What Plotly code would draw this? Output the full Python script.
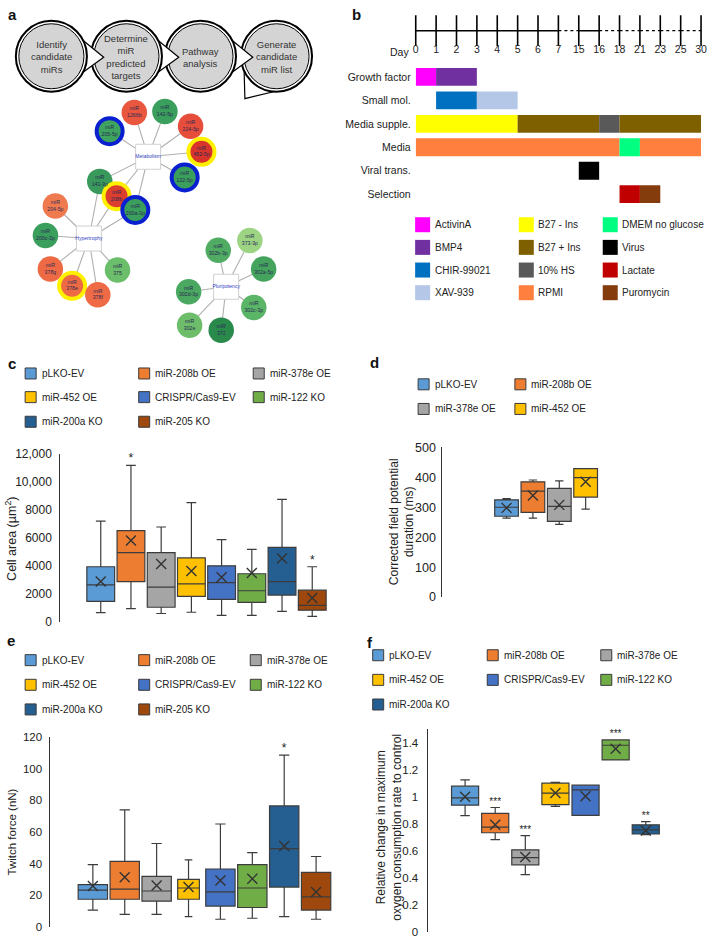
import math
import plotly.graph_objects as go

FONT = "Liberation Sans, Arial, Helvetica, sans-serif"
W, H = 712, 944

# ---------------- Panel a data ----------------
flow_steps = ["Identify<br>candidate<br>miRs", "Determine<br>miR<br>predicted<br>targets",
              "Pathway<br>analysis", "Generate<br>candidate<br>miR list"]
hub_names = ["Metabolism", "Hypertrophy", "Pluripotency"]
mir_names = ["1266b", "142-5p", "205-5p", "224-5p", "452-5p", "122-5p", "141-3p", "208b",
             "200a-3p", "204-5p", "200c-3p", "378g", "375", "378e", "378f",
             "373-3p", "302b-3p", "302a-5p", "302d-3p", "302c-3p", "302e", "372"]
mir_hubs = [["Metabolism"], ["Metabolism"], ["Metabolism"], ["Metabolism"], ["Metabolism"],
            ["Metabolism"], ["Metabolism", "Hypertrophy"], ["Metabolism", "Hypertrophy"],
            ["Metabolism", "Hypertrophy"], ["Hypertrophy"], ["Hypertrophy"], ["Hypertrophy"],
            ["Hypertrophy"], ["Hypertrophy"], ["Hypertrophy"],
            ["Pluripotency"], ["Pluripotency"], ["Pluripotency"], ["Pluripotency"],
            ["Pluripotency"], ["Pluripotency"], ["Pluripotency"]]
mir_selected = ["", "", "KO", "", "OE", "KO", "", "OE", "KO", "", "", "", "", "OE", "",
                "", "", "", "", "", "", ""]

# ---------------- Panel b data ----------------
day_ticks = [0, 1, 2, 3, 4, 5, 6, 7, 15, 16, 18, 21, 23, 25, 30]
timeline_rows = ["Growth factor", "Small mol.", "Media supple.", "Media", "Viral trans.", "Selection"]
seg_rows = ["Growth factor", "Growth factor", "Small mol.", "Small mol.",
            "Media supple.", "Media supple.", "Media supple.", "Media supple.",
            "Media", "Media", "Media", "Viral trans.", "Selection", "Selection"]
seg_start = [0, 1, 1, 3, 0, 5, 16, 18, 0, 18, 21, 15, 18, 21]
seg_end = [1, 3, 3, 5, 5, 16, 18, 30, 18, 21, 30, 16, 21, 23]
seg_item = ["ActivinA", "BMP4", "CHIR-99021", "XAV-939", "B27 - Ins", "B27 + Ins", "10% HS",
            "B27 + Ins", "RPMI", "DMEM no glucose", "RPMI", "Virus", "Lactate", "Puromycin"]
legend_b_cols = [["ActivinA", "BMP4", "CHIR-99021", "XAV-939"],
                 ["B27 - Ins", "B27 + Ins", "10% HS", "RPMI"],
                 ["DMEM no glucose", "Virus", "Lactate", "Puromycin"]]
dotted_after = [7, 16]  # day where a dotted gap begins

# ---------------- Panel c data ----------------
groups8 = ["pLKO-EV", "miR-208b OE", "miR-378e OE", "miR-452 OE",
           "CRISPR/Cas9-EV", "miR-122 KO", "miR-200a KO", "miR-205 KO"]
c_low = [660, 940, 590, 680, 450, 450, 750, 380]
c_q1 = [1460, 2880, 1040, 1820, 1600, 1390, 1910, 830]
c_med = [2640, 4950, 2480, 2710, 2800, 2220, 2880, 1180]
c_q3 = [3940, 6530, 4950, 4570, 4010, 3440, 5330, 2260]
c_high = [7210, 11200, 6790, 8530, 5890, 5190, 8770, 3940]
c_mean = [2880, 5820, 4130, 3630, 3180, 3490, 4530, 1700]
c_sig = ["", "*", "", "", "", "", "", "*"]
c_ticks = [0, 2000, 4000, 6000, 8000, 10000, 12000]
c_ticktext = ["0", "2000", "4000", "6000", "8000", "10,000", "12,000"]

# ---------------- Panel d data ----------------
groups4 = ["pLKO-EV", "miR-208b OE", "miR-378e OE", "miR-452 OE"]
d_low = [264, 264, 243, 294]
d_q1 = [270, 283, 253, 334]
d_med = [300, 354, 303, 399]
d_q3 = [325, 385, 363, 429]
d_high = [329, 391, 388, 429]
d_mean = [298, 339, 308, 385]
d_sig = ["", "", "", ""]
d_ticks = [0, 100, 200, 300, 400, 500]

# ---------------- Panel e data ----------------
e_low = [10.8, 8.1, 8.1, 6.6, 5.0, 5.6, 6.6, 5.0]
e_q1 = [17.6, 17.6, 16.4, 17.6, 13.3, 12.4, 25.3, 10.8]
e_med = [23.4, 24.0, 22.8, 24.7, 22.2, 24.7, 49.5, 19.1]
e_q3 = [26.9, 41.5, 32.1, 30.1, 36.7, 39.4, 76.5, 34.6]
e_high = [39.4, 74.0, 52.8, 42.5, 65.1, 47.0, 108.6, 44.6]
e_mean = [25.9, 31.5, 26.3, 25.3, 29.4, 30.5, 51.2, 22.2]
e_sig = ["", "", "", "", "", "", "*", ""]
e_ticks = [0, 20, 40, 60, 80, 100, 120]

# ---------------- Panel f data ----------------
groups7 = groups8[:7]
f_low = [0.862, 0.684, 0.425, 0.930, 0.864, 1.274, 0.721]
f_q1 = [0.939, 0.735, 0.498, 0.944, 0.864, 1.274, 0.726]
f_med = [0.993, 0.777, 0.551, 1.029, 1.053, 1.383, 0.757]
f_q3 = [1.080, 0.879, 0.609, 1.102, 1.087, 1.422, 0.794]
f_high = [1.126, 0.922, 0.714, 1.109, 1.087, 1.422, 0.818]
f_mean = [1.002, 0.794, 0.556, 1.029, 1.005, 1.357, 0.752]
f_sig = ["", "***", "***", "", "", "***", "**"]
f_ticks = [0, 0.2, 0.4, 0.6, 0.8, 1.0, 1.2, 1.4]
f_ticktext = ["0", "0.2", "0.4", "0.6", "0.8", "1", "1.2", "1.4"]

# ================= styles / layout positions (pixels) =================
group_colors = {"pLKO-EV": "#5b9bd5", "miR-208b OE": "#ed7d31", "miR-378e OE": "#a5a5a5",
                "miR-452 OE": "#ffc000", "CRISPR/Cas9-EV": "#4472c4", "miR-122 KO": "#70ad47",
                "miR-200a KO": "#255e91", "miR-205 KO": "#9e480e"}
item_colors = {"ActivinA": "#ff00ff", "BMP4": "#7030a0", "CHIR-99021": "#0070c0",
               "XAV-939": "#b4c7e7", "B27 - Ins": "#ffff00", "B27 + Ins": "#7f6000",
               "10% HS": "#595959", "RPMI": "#ff7f3f", "DMEM no glucose": "#00ff80",
               "Virus": "#000000", "Lactate": "#c00000", "Puromycin": "#843c0c"}
BOX_LINE = "#3c3c3c"
TXT = "#222222"
LEG_SIZE = 10

flow_cx = [49, 125, 200, 277]
flow_cy = 50
hub_pos = [(147, 152), (87, 235), (226, 284)]
mir_pos = [(133, 107), (164, 106), (108, 126), (190, 121), (201, 147), (184, 173),
           (98, 177), (115, 192), (134, 206), (53, 202), (43, 232), (48, 266), (116, 267),
           (70, 283), (96, 292), (250, 237), (218, 247), (264, 266), (188, 289),
           (254, 305), (189, 323), (221, 328)]
mir_fill = ["#e9573f", "#3a9e5c", "#3ea35f", "#e64d3a", "#d9342b", "#3a9e5c", "#38995a",
            "#dc3f2d", "#3a9e5c", "#f07a50", "#3a9e5c", "#ee6a45", "#6cbf6a", "#ee6a45",
            "#ef6b46", "#9cd484", "#4fac62", "#44a45d", "#4aa860", "#5ab566", "#6dbd6b",
            "#2a8a4c"]
ring_colors = {"": "rgba(0,0,0,0)", "OE": "#fff000", "KO": "#0a1fd0"}

fig = go.Figure()
layout_axes = {}


def fx(p):
    return p / W


def fy(p):
    return 1 - p / H


shapes = []
annotations = []


def ann(x, y, text, size=12, xanchor="left", yanchor="middle", color=TXT, bold=False, angle=0, align="center"):
    annotations.append(dict(x=x, y=y, xref="x", yref="y", text=("<b>%s</b>" % text) if bold else text,
                            showarrow=False, xanchor=xanchor, yanchor=yanchor, textangle=angle,
                            align=align, font=dict(family=FONT, size=size, color=color)))


# ---------------- overlay axis (pixel coordinates) ----------------
layout_axes["xaxis"] = dict(domain=[0, 1], range=[0, W], visible=False, fixedrange=True)
layout_axes["yaxis"] = dict(domain=[0, 1], range=[H, 0], visible=False, fixedrange=True)

# panel labels
for lab, x, y in [("a", 3, 8), ("b", 351, 8), ("c", 3, 362), ("d", 370, 361), ("e", 2, 643), ("f", 367, 645)]:
    ann(x, y, lab, size=15, bold=True, color="#111")

# ---------------- Panel a: flowchart ----------------
R_out, R_in = 36, 33


def circ(cx, cy, r, fill, lw):
    return dict(type="circle", xref="x", yref="y", x0=cx - r, x1=cx + r, y0=cy - r, y1=cy + r,
                fillcolor=fill, line=dict(color="black", width=lw), layer="above")


def pointer_path(pts):
    p = "M %f,%f L %f,%f L %f,%f" % (pts[0][0], pts[0][1], pts[1][0], pts[1][1], pts[2][0], pts[2][1])
    return dict(type="path", xref="x", yref="y", path=p, fillcolor="white",
                line=dict(color="black", width=1.2), layer="above")


def on_circ(cx, cy, r, deg):
    return (cx + r * math.cos(math.radians(deg)), cy + r * math.sin(math.radians(deg)))


for i in reversed(range(4)):
    cx = flow_cx[i]
    if i < 3:
        pts = [on_circ(cx, flow_cy, R_out - 1, -30), (cx + 53, flow_cy + 1), on_circ(cx, flow_cy, R_out - 1, 30)]
    else:
        pts = [on_circ(cx, flow_cy, R_out - 1, 160), (cx - 32, flow_cy + 43), on_circ(cx, flow_cy, R_out - 1, 88)]
    shapes.append(pointer_path(pts))
    shapes.append(circ(cx, flow_cy, R_out, "white", 2))
    shapes.append(circ(cx, flow_cy, R_in, "#d4d4d4", 1))
for i, t in enumerate(flow_steps):
    ann(flow_cx[i], flow_cy + 1, t, size=9.5, xanchor="center", color="#333")

# ---------------- Panel a: network ----------------
hub_lookup = dict(zip(hub_names, hub_pos))
ex, ey = [], []
for name, hubs_of, pos in zip(mir_names, mir_hubs, mir_pos):
    for h in hubs_of:
        hx, hy = hub_lookup[h]
        ex += [hx, pos[0], None]
        ey += [hy, pos[1], None]
fig.add_trace(go.Scatter(x=ex, y=ey, mode="lines", line=dict(color="#b0b0b0", width=1.1),
                         xaxis="x", yaxis="y", hoverinfo="skip"))
fig.add_trace(go.Scatter(x=[p[0] for p in hub_pos], y=[p[1] for p in hub_pos], mode="markers+text",
                         marker=dict(symbol="square", size=25, color="white", opacity=1,
                                     line=dict(color="#d0d0d0", width=1)),
                         text=hub_names, textposition="middle center",
                         textfont=dict(family=FONT, size=5, color="#3040c0"),
                         xaxis="x", yaxis="y", hoverinfo="skip", cliponaxis=False))
sizes = [26 if s else 25.5 for s in mir_selected]
lws = [4 if s else 0 for s in mir_selected]
fig.add_trace(go.Scatter(x=[p[0] for p in mir_pos], y=[p[1] for p in mir_pos], mode="markers+text",
                         marker=dict(symbol="circle", size=sizes, color=mir_fill, opacity=1,
                                     line=dict(color=[ring_colors[s] for s in mir_selected], width=lws)),
                         text=["miR<br>" + n for n in mir_names], textposition="middle center",
                         textfont=dict(family=FONT, size=5.2, color="#2a2a55"),
                         xaxis="x", yaxis="y", hoverinfo="skip", cliponaxis=False))

# ---------------- Panel b: timeline ----------------
tl_left, tl_right = 418, 707
idx = {d: i for i, d in enumerate(day_ticks)}
n_t = len(day_ticks) - 1
layout_axes["xaxis2"] = dict(domain=[fx(tl_left), fx(tl_right)], range=[-0.001, n_t + 0.001], anchor="y2",
                             tickmode="array", tickvals=list(range(len(day_ticks))),
                             ticktext=[str(d) for d in day_ticks], ticklabeloverflow="allow",
                             showline=False, ticks="", showgrid=False, zeroline=False,
                             tickfont=dict(family=FONT, size=10.5, color=TXT), fixedrange=True)
layout_axes["yaxis2"] = dict(domain=[fy(35), fy(13)], range=[-1, 1], visible=False, fixedrange=True)
for i in range(n_t):
    d0 = day_ticks[i]
    dash = "dot" if d0 in dotted_after or (d0 > 16) else "solid"
    fig.add_trace(go.Scatter(x=[i, i + 1], y=[0, 0], mode="lines",
                             line=dict(color="black", width=1.5 if dash == "solid" else 1.3, dash=dash),
                             xaxis="x2", yaxis="y2", hoverinfo="skip"))
fig.add_trace(go.Scatter(x=list(range(len(day_ticks))), y=[0] * len(day_ticks), mode="markers",
                         marker=dict(symbol="line-ns", size=22, line=dict(color="black", width=1.6)),
                         xaxis="x2", yaxis="y2", hoverinfo="skip", cliponaxis=False))
ann(402, 46, "Day", size=10.5, xanchor="center")

# bars
row_top, row_step = 71, 23.8
bar_dom_top, bar_dom_bot = 55, 210
layout_axes["xaxis3"] = dict(domain=[fx(tl_left), fx(tl_right)], range=[0, n_t], anchor="y3",
                             visible=False, fixedrange=True)
layout_axes["yaxis3"] = dict(domain=[fy(bar_dom_bot), fy(bar_dom_top)], anchor="x3", type="category",
                             categoryarray=timeline_rows,
                             range=[(bar_dom_bot - row_top) / row_step, (bar_dom_top - row_top) / row_step],
                             showline=False, ticks="", showgrid=False, zeroline=False,
                             tickfont=dict(family=FONT, size=10.5, color=TXT), ticklabelstandoff=4,
                             fixedrange=True)
for r, s, e, it in zip(seg_rows, seg_start, seg_end, seg_item):
    fig.add_trace(go.Bar(orientation="h", y=[r], x=[idx[e] - idx[s]], base=[idx[s]],
                         marker=dict(color=item_colors[it], line=dict(width=0)), width=0.76,
                         xaxis="x3", yaxis="y3", hoverinfo="skip"))

# legend b
leg_b_sq_x = [425, 530, 615]
leg_b_rows = [221, 244, 267, 290]
sx, sy, sc = [], [], []
for ci, col in enumerate(legend_b_cols):
    for ri, it in enumerate(col):
        sx.append(leg_b_sq_x[ci]); sy.append(leg_b_rows[ri]); sc.append(item_colors[it])
        ann(leg_b_sq_x[ci] + 10, leg_b_rows[ri], it, size=LEG_SIZE)
fig.add_trace(go.Scatter(x=sx, y=sy, mode="markers",
                         marker=dict(symbol="square", size=15, color=sc, line=dict(width=0)),
                         xaxis="x", yaxis="y", hoverinfo="skip"))


# ---------------- Box panels ----------------
def legend_grid(cats, sq_x, rows, ncol):
    xs, ys, cs = [], [], []
    for k, c in enumerate(cats):
        r, col = divmod(k, ncol)
        xs.append(sq_x[col]); ys.append(rows[r]); cs.append(group_colors[c])
        ann(sq_x[col] + 9, rows[r], c, size=LEG_SIZE)
    fig.add_trace(go.Scatter(x=xs, y=ys, mode="markers",
                             marker=dict(symbol="square", size=11, color=cs,
                                         line=dict(color="#3a3a3a", width=1)),
                             xaxis="x", yaxis="y", hoverinfo="skip"))


def box_panel(n, cats, low, q1, med, q3, high, mean, sig, widths, ax_px, first_c, step, right_px,
              top_px, bot_px, ymax, tickvals, ticktext, sig_size, standoff, tick_size):
    xa, ya = "x%d" % n, "y%d" % n
    for i, c in enumerate(cats):
        fig.add_trace(go.Box(x=[c], q1=[q1[i]], median=[med[i]], q3=[q3[i]],
                             lowerfence=[low[i]], upperfence=[high[i]], orientation="v",
                             fillcolor=group_colors[c], line=dict(color=BOX_LINE, width=1.2),
                             width=widths[i], whiskerwidth=0.35, boxpoints=False,
                             xaxis=xa, yaxis=ya, hoverinfo="skip"))
    fig.add_trace(go.Scatter(x=cats, y=mean, mode="markers",
                             marker=dict(symbol="x-thin", size=10, line=dict(width=1.4, color="#333")),
                             xaxis=xa, yaxis=ya, hoverinfo="skip", cliponaxis=False))
    sc_ = [c for c, s in zip(cats, sig) if s]
    if sc_:
        fig.add_trace(go.Scatter(x=sc_, y=[h for h, s in zip(high, sig) if s],
                                 text=[s for s in sig if s], mode="text", textposition="top center",
                                 textfont=dict(family=FONT, size=sig_size, color="#222"),
                                 xaxis=xa, yaxis=ya, hoverinfo="skip", cliponaxis=False))
    layout_axes["xaxis%d" % n] = dict(domain=[fx(ax_px), fx(right_px)], anchor=ya, type="category",
                                      categoryarray=cats,
                                      range=[(ax_px - first_c) / step, (right_px - first_c) / step],
                                      visible=False, fixedrange=True)
    layout_axes["yaxis%d" % n] = dict(domain=[fy(bot_px), fy(top_px)], anchor=xa, range=[0, ymax],
                                      showline=True, linecolor="#333", linewidth=1, ticks="",
                                      tickmode="array", tickvals=tickvals, ticktext=ticktext,
                                      showgrid=False, zeroline=False, ticklabelstandoff=standoff,
                                      tickfont=dict(family=FONT, size=tick_size, color=TXT),
                                      fixedrange=True)


# panel c
legend_grid(groups8, [28, 143, 259], [372, 396, 421], 3)
box_panel(4, groups8, c_low, c_q1, c_med, c_q3, c_high, c_mean, c_sig, [0.92] * 8,
          58, 99, 30.6, 340, 454, 624, 12000, c_ticks, c_ticktext, 12, 5, 12)
ann(8, 540, "Cell area (µm<sup>2</sup>)", size=12.5, xanchor="center", angle=-90)

# panel d
legend_grid(groups4, [426, 524], [383, 408], 2)
box_panel(5, groups4, d_low, d_q1, d_med, d_q3, d_high, d_mean, d_sig, [0.9] * 4,
          445, 510, 26.7, 700, 447, 599, 500, d_ticks, [str(t) for t in d_ticks], 12, 3, 12.5)
ann(404, 522, "Corrected field potential<br>duration (ms)", size=12, xanchor="center", angle=-90)

# panel e
legend_grid(groups8, [28, 143, 256], [663, 688, 713], 3)
box_panel(6, groups8, e_low, e_q1, e_med, e_q3, e_high, e_mean, e_sig,
          [0.92, 0.92, 0.92, 0.68, 0.92, 0.92, 0.92, 0.92],
          48, 91, 32.3, 345, 741, 934, 120, e_ticks, [str(t) for t in e_ticks], 12, 5, 11.5)
ann(9, 837, "Twitch force (nN)", size=11.5, xanchor="center", angle=-90)

# panel f
legend_grid(groups7, [380, 496, 611], [658, 683, 708], 3)
box_panel(7, groups7, f_low, f_q1, f_med, f_q3, f_high, f_mean, f_sig, [0.9] * 7,
          430, 468, 30.5, 705, 733.3, 939, 1.5, f_ticks, f_ticktext, 10, 6, 11.5)
ann(391, 833, "Relative change in maximum<br>oxygen consumption rate to control", size=12,
    xanchor="center", angle=-90)

fig.update_layout(width=W, height=H, autosize=False, margin=dict(l=0, r=0, t=0, b=0, pad=0),
                  paper_bgcolor="white", plot_bgcolor="rgba(0,0,0,0)", showlegend=False,
                  barmode="overlay", boxmode="overlay", hovermode=False,
                  font=dict(family=FONT, color=TXT), shapes=shapes, annotations=annotations,
                  **layout_axes)
fig.write_html("out.html", config={"displayModeBar": False, "staticPlot": True},
               post_script="document.documentElement.style.margin='0';document.body.style.margin='0';"
                           "document.body.style.overflow='hidden';")
